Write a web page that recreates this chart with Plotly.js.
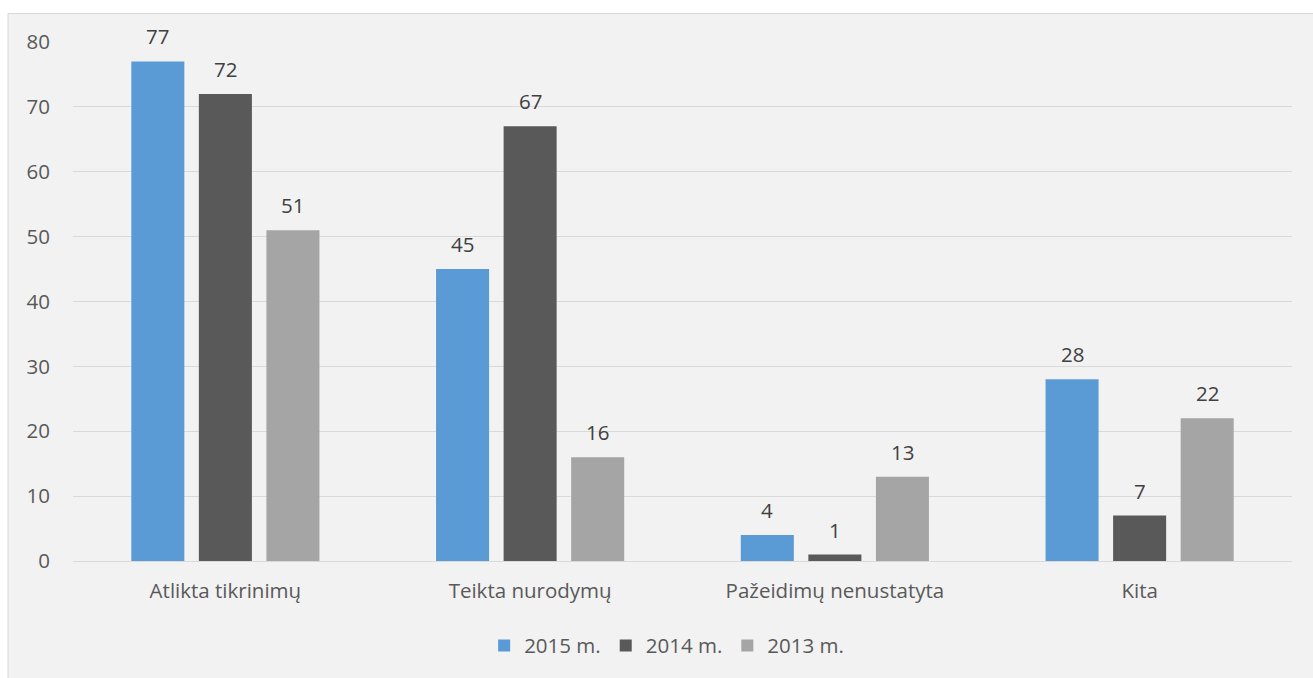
<!DOCTYPE html>
<html>
<head>
<meta charset="utf-8">
<script src="https://cdn.plot.ly/plotly-3.0.1.min.js"></script>
<style>
html,body{margin:0;padding:0;background:#fff;}
#chart{width:1313px;height:678px;}
</style>
</head>
<body>
<div id="chart"></div>
<script>
const categories = ["Atlikta tikrinimų", "Teikta nurodymų", "Pažeidimų nenustatyta", "Kita"];
const seriesNames = ["2015 m.", "2014 m.", "2013 m."];
const values2015 = [77, 45, 4, 28];
const values2014 = [72, 67, 1, 7];
const values2013 = [51, 16, 13, 22];
const colors = ["#5b9bd5", "#595959", "#a5a5a5"];
const yTicks = [0, 10, 20, 30, 40, 50, 60, 70, 80];

const allValues = [values2015, values2014, values2013];
const FONT = "'Open Sans', sans-serif";
const FS = 20.5;

const traces = allValues.map((vals, i) => ({
  type: "bar",
  name: seriesNames[i],
  x: categories,
  y: vals,
  marker: {color: colors[i]},
  hoverinfo: "none"
}));

const annotations = [];
allValues.forEach((vals, i) => {
  vals.forEach((v, j) => {
    annotations.push({
      x: categories[j], y: v, xref: "x", yref: "y",
      text: String(v), showarrow: false,
      xshift: (i - 1) * 67.5, yshift: 9, yanchor: "bottom",
      font: {family: FONT, size: FS, color: "#404040"}
    });
  });
});

const layout = {
  width: 1313, height: 678,
  margin: {l: 73, r: 21, t: 42, b: 115},
  paper_bgcolor: "#ffffff",
  plot_bgcolor: "rgba(0,0,0,0)",
  barmode: "group",
  bargap: 0.335,
  bargroupgap: 0.215,
  font: {family: FONT, size: FS, color: "#595959"},
  xaxis: {
    type: "category",
    showgrid: false, zeroline: false, showline: false, ticks: "",
    ticklabelstandoff: 15,
    tickfont: {family: FONT, size: FS, color: "#595959"}
  },
  yaxis: {
    range: [0, 80], tickvals: yTicks, ticktext: yTicks.map(String),
    showgrid: true, gridcolor: "#d9d9d9", gridwidth: 1,
    zeroline: true, zerolinecolor: "#d9d9d9", zerolinewidth: 1,
    showline: false, ticks: "",
    ticklabelstandoff: 22,
    tickfont: {family: FONT, size: FS, color: "#595959"}
  },
  legend: {
    orientation: "h", x: 0.487, xanchor: "center", y: -0.163, yanchor: "middle",
    font: {family: FONT, size: FS, color: "#595959"},
    bgcolor: "rgba(0,0,0,0)", traceorder: "normal"
  },
  shapes: [{
    type: "rect", xref: "paper", yref: "paper", layer: "below",
    x0: -0.0533, x1: 1.03, y0: -0.3, y1: 1.0548,
    fillcolor: "#f2f2f2", line: {color: "#d9d9d9", width: 1}
  }],
  annotations: annotations
};

Plotly.newPlot("chart", traces, layout, {staticPlot: true, displayModeBar: false});
</script>
</body>
</html>
